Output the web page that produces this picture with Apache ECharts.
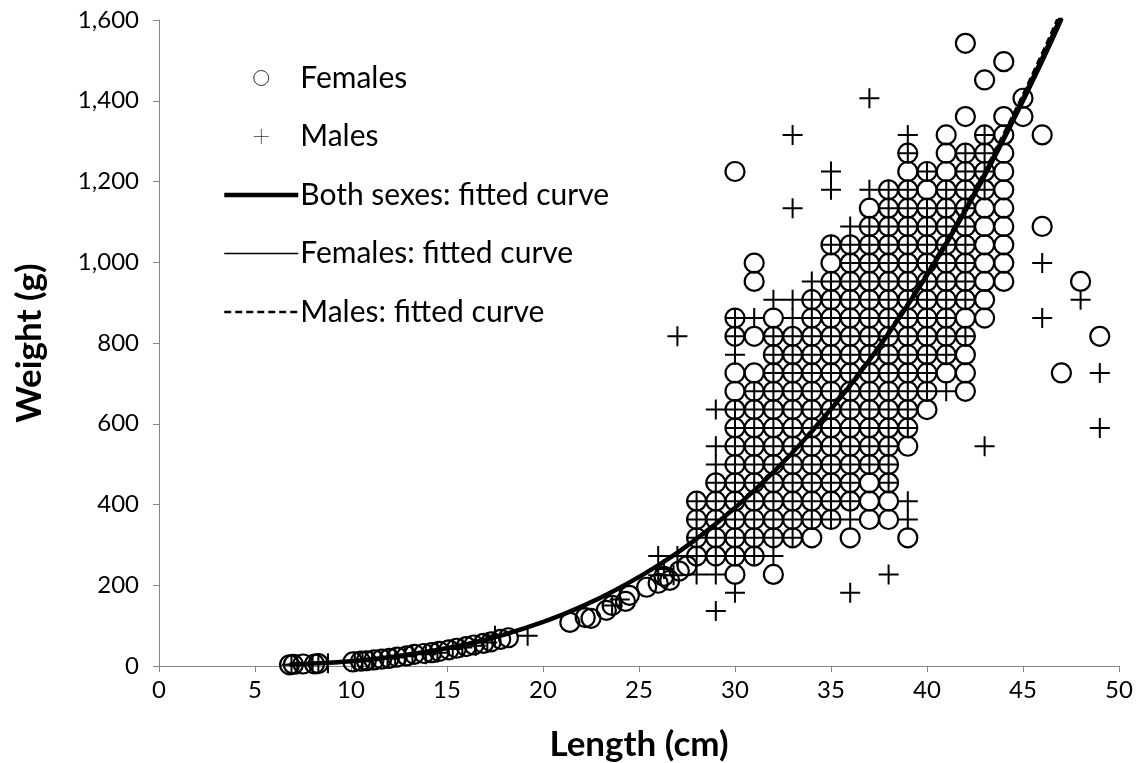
<!DOCTYPE html>
<html>
<head>
<meta charset="utf-8">
<script src="https://cdn.jsdelivr.net/npm/echarts@6/dist/echarts.min.js"></script>
<style>
  html, body { margin: 0; padding: 0; background: #fff; }
  #chart { width: 1141px; height: 763px; }
</style>
</head>
<body>
<div id="chart"></div>
<script>
// weights read on the 0.1 lb grid (units of 0.1 lb), one list per length (cm)
var lengthsCm = [26, 27, 28, 29, 30, 31, 32, 33, 34, 35, 36, 37, 38, 39, 40, 41, 42, 43, 44, 45, 46, 47, 48, 49];

var femaleTenthLb = [
  [],
  [],
  [6, 7, 8, 9],
  [6, 7, 8, 9, 10],
  [5, 6, 7, 8, 9, 10, 11, 12, 13, 14, 15, 16, 18, 19, 27],
  [6, 7, 8, 9, 10, 11, 12, 13, 14, 15, 16, 18, 21, 22],
  [5, 7, 8, 9, 10, 11, 12, 13, 14, 15, 16, 17, 18, 19],
  [7, 8, 9, 10, 11, 12, 13, 14, 15, 16, 17, 18],
  [7, 8, 9, 10, 11, 12, 13, 14, 15, 16, 17, 18, 19, 20],
  [8, 9, 10, 11, 12, 13, 14, 15, 16, 17, 18, 19, 20, 21, 22, 23],
  [7, 9, 10, 11, 12, 13, 14, 15, 16, 17, 18, 19, 20, 21, 22, 23],
  [8, 9, 10, 11, 12, 13, 14, 15, 16, 17, 18, 19, 20, 21, 22, 23, 24, 25],
  [8, 9, 10, 11, 12, 13, 14, 15, 16, 17, 18, 19, 20, 21, 22, 23, 24, 25, 26],
  [7, 12, 13, 14, 15, 16, 17, 18, 19, 20, 21, 22, 23, 24, 25, 26, 27, 28],
  [14, 15, 16, 17, 18, 19, 20, 21, 22, 23, 24, 25, 26, 27],
  [16, 17, 18, 19, 20, 21, 22, 23, 24, 25, 26, 27, 28, 29],
  [15, 16, 17, 18, 19, 20, 21, 22, 23, 24, 25, 26, 27, 28, 30, 34],
  [19, 20, 21, 22, 23, 24, 25, 26, 27, 28, 29, 32],
  [21, 22, 23, 24, 25, 26, 27, 28, 29, 30, 33],
  [30, 31],
  [24, 29],
  [16],
  [21],
  [18]
];

var maleTenthLb = [
  [6],
  [6, 18],
  [5, 6, 7, 8, 9],
  [3, 5, 6, 7, 8, 9, 10, 11, 12, 14],
  [4, 6, 7, 8, 9, 10, 11, 12, 13, 14, 17, 18, 19],
  [6, 7, 8, 9, 10, 11, 12, 13, 14, 15, 19],
  [6, 7, 8, 9, 10, 11, 12, 13, 14, 15, 16, 17, 18, 20],
  [7, 8, 9, 10, 11, 12, 13, 14, 15, 16, 17, 18, 19, 20, 25, 29],
  [8, 9, 10, 11, 12, 13, 14, 15, 16, 17, 18, 19, 20, 21],
  [8, 9, 10, 11, 12, 13, 14, 15, 16, 17, 18, 19, 20, 21, 23, 26, 27],
  [4, 8, 9, 10, 11, 12, 13, 14, 15, 16, 17, 18, 19, 20, 21, 22, 23, 24],
  [11, 12, 13, 14, 15, 16, 17, 18, 19, 20, 21, 22, 23, 24, 26, 31],
  [5, 10, 11, 12, 13, 14, 15, 16, 17, 18, 19, 20, 21, 22, 23, 24, 25, 26],
  [8, 9, 13, 14, 15, 16, 17, 18, 19, 20, 21, 22, 23, 24, 25, 26, 28, 29],
  [15, 16, 17, 18, 19, 20, 21, 22, 23, 24, 25, 27],
  [15, 17, 18, 19, 20, 21, 22, 23, 24, 25, 26],
  [18, 20, 21, 22, 23, 24, 25, 26, 27, 28],
  [12, 26, 27, 28, 29],
  [],
  [],
  [19, 22],
  [],
  [20],
  [13, 16]
];

// small fish, [length cm, weight g]
var smallFemales = [
  [6.8, 3], [7.0, 4], [7.5, 5], [8.1, 5], [8.3, 6], [10.1, 10], [10.5, 12], [10.8, 13],
  [11.2, 15], [11.6, 17], [12.0, 19], [12.4, 22], [12.9, 25], [13.3, 29], [13.8, 31],
  [14.2, 33], [14.6, 36], [15.1, 40], [15.5, 44], [16.0, 48], [16.4, 52], [16.9, 56],
  [17.3, 60], [17.8, 66], [18.2, 70], [21.4, 108], [22.2, 120], [22.5, 118], [23.3, 138],
  [23.6, 150], [24.3, 160], [24.5, 175], [25.4, 195], [26.0, 205], [26.3, 222],
  [26.6, 212], [27.1, 235], [27.5, 248]
];
var smallMales = [
  [6.9, 3], [7.2, 4], [8.0, 5], [8.3, 6], [8.8, 7], [10.2, 11], [10.6, 12], [11.1, 14],
  [11.9, 18], [12.3, 21], [12.8, 24], [13.2, 30], [13.9, 29], [14.5, 33], [15.3, 42],
  [15.8, 46], [16.5, 50], [17.1, 58], [17.5, 75], [19.2, 75], [23.6, 150], [24.0, 165],
  [26.0, 225], [26.3, 240], [26.8, 225]
];

// fitted curves
var curveLengths = [6.8, 8, 10, 12, 14, 16, 18, 20, 22, 24, 26, 28, 30, 32, 34, 36, 38, 40, 42, 44, 46, 47.2];
var bothCurveG = [4, 6, 12, 22, 36, 54, 78, 109, 147, 194, 249, 315, 392, 480, 581, 695, 824, 969, 1130, 1309, 1505, 1632];
var femaleCurveG = [4, 6, 12, 22, 36, 54, 78, 109, 146, 193, 248, 313, 390, 477, 577, 690, 818, 961, 1120, 1297, 1490, 1615];
var maleCurveG = [4, 6, 13, 22, 36, 55, 79, 110, 148, 196, 251, 318, 395, 484, 586, 701, 831, 977, 1140, 1321, 1520, 1650];

var GRAMS_PER_TENTH_LB = 45.36;

function gridPoints(lists) {
  var pts = [];
  lists.forEach(function (l, i) {
    l.forEach(function (n) {
      pts.push([lengthsCm[i], n * GRAMS_PER_TENTH_LB]);
    });
  });
  return pts;
}
function pairs(xs, ys) {
  return xs.map(function (x, i) { return [x, ys[i]]; });
}

var femalesData = smallFemales.concat(gridPoints(femaleTenthLb));
var malesData = smallMales.concat(gridPoints(maleTenthLb));

var crossPath = 'path://M9,0h2v20h-2z M0,9h20v2h-20z';
var thinCross = 'path://M9.5,0h1v20h-1z M0,9.5h20v1h-20z';
var font = 'Lato, "Liberation Sans", sans-serif';
var axisGrey = '#868686';

var chart = echarts.init(document.getElementById('chart'), null, { renderer: 'canvas' });
var option = {
  animation: false,
  backgroundColor: '#fff',
  grid: { left: 159, right: 22, top: 20, bottom: 97, containLabel: false, outerBoundsMode: 'none' },
  legend: {
    orient: 'vertical',
    left: 217,
    top: 58,
    itemWidth: 74,
    itemHeight: 15,
    itemGap: 28.5,
    textStyle: { fontFamily: font, fontSize: 30, color: '#000', lineHeight: 24, padding: [0, 0, 0, -3] },
    data: [
      { name: 'Females', icon: 'circle', itemStyle: { color: 'rgba(0,0,0,0)', borderColor: '#333', borderWidth: 1 } },
      { name: 'Males', icon: thinCross, itemStyle: { color: '#333', borderWidth: 0 } },
      { name: 'Both sexes: fitted curve', itemStyle: { opacity: 0 }, lineStyle: { width: 4.5 } },
      { name: 'Females: fitted curve', itemStyle: { opacity: 0 }, lineStyle: { width: 1.5 } },
      { name: 'Males: fitted curve', itemStyle: { opacity: 0 }, lineStyle: { width: 2.5, type: [7, 4] } }
    ]
  },
  xAxis: {
    type: 'value',
    min: 0,
    max: 50,
    interval: 5,
    name: 'Length (cm)',
    nameLocation: 'middle',
    nameGap: 61,
    nameTextStyle: { fontFamily: font, fontSize: 35, fontWeight: 'bold', color: '#000' },
    axisLine: { show: true, lineStyle: { color: axisGrey, width: 1 } },
    axisTick: { show: true, length: 6, lineStyle: { color: axisGrey } },
    axisLabel: { fontFamily: font, fontSize: 24, color: '#000', margin: 12 },
    splitLine: { show: false }
  },
  yAxis: {
    type: 'value',
    min: 0,
    max: 1600,
    interval: 200,
    name: 'Weight (g)',
    nameLocation: 'middle',
    nameGap: 112,
    nameTextStyle: { fontFamily: font, fontSize: 35, fontWeight: 'bold', color: '#000' },
    axisLine: { show: true, lineStyle: { color: axisGrey, width: 1 } },
    axisTick: { show: true, length: 6, lineStyle: { color: axisGrey } },
    axisLabel: {
      fontFamily: font, fontSize: 24, color: '#000', margin: 20,
      formatter: function (v) { return v.toLocaleString('en-US'); }
    },
    splitLine: { show: false }
  },
  series: [
    {
      name: 'Females',
      type: 'scatter',
      symbol: 'circle',
      symbolSize: 19,
      data: femalesData,
      itemStyle: { color: 'rgba(0,0,0,0)', borderColor: '#000', borderWidth: 2.2, opacity: 1 },
      z: 2
    },
    {
      name: 'Males',
      type: 'scatter',
      symbol: crossPath,
      symbolSize: 20,
      data: malesData,
      itemStyle: { color: '#000', opacity: 1 },
      z: 3
    },
    {
      name: 'Both sexes: fitted curve',
      type: 'line',
      smooth: true,
      symbol: 'none',
      data: pairs(curveLengths, bothCurveG),
      lineStyle: { color: '#000', width: 4.5 },
      itemStyle: { color: '#000' },
      z: 5
    },
    {
      name: 'Females: fitted curve',
      type: 'line',
      smooth: true,
      symbol: 'none',
      data: pairs(curveLengths, femaleCurveG),
      lineStyle: { color: '#000', width: 1.5 },
      itemStyle: { color: '#000' },
      z: 4
    },
    {
      name: 'Males: fitted curve',
      type: 'line',
      smooth: true,
      symbol: 'none',
      data: pairs(curveLengths, maleCurveG),
      lineStyle: { color: '#000', width: 2, type: [7, 4] },
      itemStyle: { color: '#000' },
      z: 4
    }
  ]
};
chart.setOption(option);
window.onresize = function () { chart.resize(); };
</script>
</body>
</html>
